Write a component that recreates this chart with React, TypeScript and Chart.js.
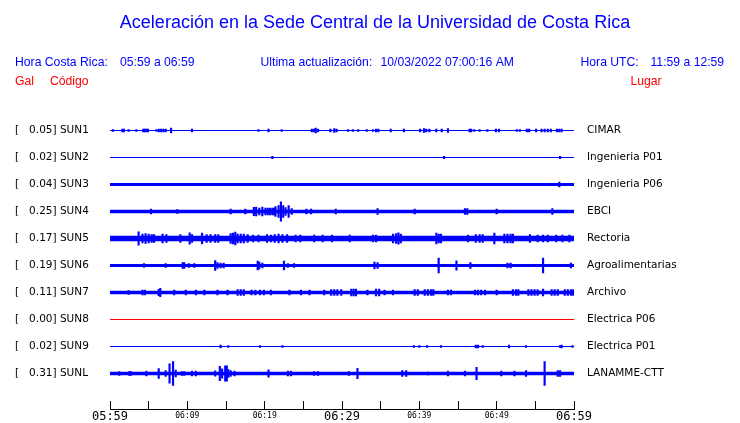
import React, { useEffect, useRef } from "react";
import { Chart, registerables } from "chart.js";

Chart.register(...registerables);

// ---------------- data ----------------
const TITLE = "Aceleración en la Sede Central de la Universidad de Costa Rica";
const UPDATED = "10/03/2022 07:00:16 AM";
const UTC_RANGE = "11:59 a 12:59";

const CODES = ["SUN1", "SUN2", "SUN3", "SUN4", "SUN5", "SUN6", "SUN7", "SUN8", "SUN9", "SUNL"];
const PLACES = [
  "CIMAR",
  "Ingenieria P01",
  "Ingenieria P06",
  "EBCI",
  "Rectoria",
  "Agroalimentarias",
  "Archivo",
  "Electrica P06",
  "Electrica P01",
  "LANAMME-CTT",
];
// peak acceleration (gal) shown in the left labels
const PEAK_GAL = [0.05, 0.02, 0.04, 0.25, 0.17, 0.19, 0.11, 0.0, 0.02, 0.31];
// half-width of the continuous background noise band (gal)
const NOISE_GAL = [0.013, 0.013, 0.039, 0.047, 0.073, 0.041, 0.045, 0.013, 0.013, 0.044];

const TICK_MINUTES = [0, 5, 10, 15, 20, 25, 30, 35, 40, 45, 50, 55, 60];
const TICK_LABELS = ["05:59", "06:09", "06:19", "06:29", "06:39", "06:49", "06:59"];

// [minute after 05:59, half amplitude in gal]
const SUN1_EVENTS = [
  [0.4, 0.026], [1.6, 0.039], [1.8, 0.039], [2.4, 0.026], [3.4, 0.026], [4.3, 0.039], [4.5, 0.039],
  [4.7, 0.039], [4.9, 0.039], [6.0, 0.026], [6.3, 0.039], [6.6, 0.039], [6.9, 0.039], [7.2, 0.039],
  [7.9, 0.06], [10.6, 0.039], [19.2, 0.026], [20.5, 0.039], [22.2, 0.026], [26.1, 0.039], [26.4, 0.039],
  [26.6, 0.06], [26.9, 0.039], [28.5, 0.039], [29.0, 0.05], [29.3, 0.039], [30.8, 0.026], [31.4, 0.026],
  [32.1, 0.026], [33.2, 0.026], [34.0, 0.026], [34.4, 0.039], [34.7, 0.039], [36.3, 0.039], [38.0, 0.039],
  [40.1, 0.039], [40.6, 0.05], [40.9, 0.039], [41.3, 0.039], [42.2, 0.039], [42.9, 0.039], [43.7, 0.05],
  [46.5, 0.039], [46.7, 0.039], [47.1, 0.026], [47.8, 0.026], [48.8, 0.026], [49.9, 0.039], [50.3, 0.039],
  [52.6, 0.026], [53.0, 0.026], [53.9, 0.039], [54.2, 0.039], [55.1, 0.039], [55.8, 0.039], [56.2, 0.039],
  [56.6, 0.039], [57.0, 0.039], [57.8, 0.039], [58.1, 0.039], [58.4, 0.039],
];
const SUN2_EVENTS = [[21.0, 0.03], [43.2, 0.03], [58.2, 0.03]];
const SUN3_EVENTS = [[58.1, 0.065]];
const SUN4_EVENTS = [
  [5.3, 0.065], [8.7, 0.052], [15.6, 0.065], [17.5, 0.065], [18.6, 0.11], [18.9, 0.117], [19.3, 0.09],
  [19.7, 0.117], [20.1, 0.091], [20.4, 0.091], [20.7, 0.091], [21.0, 0.091], [21.2, 0.091], [21.4, 0.13],
  [21.8, 0.155], [22.1, 0.25], [22.4, 0.155], [22.7, 0.104], [23.1, 0.155], [23.5, 0.078], [25.4, 0.065],
  [26.0, 0.065], [29.2, 0.065], [34.6, 0.078], [39.4, 0.065], [45.9, 0.078], [46.2, 0.078], [50.0, 0.065],
  [57.2, 0.078],
];
const SUN5_EVENTS = [
  [3.7, 0.17], [4.2, 0.117], [4.6, 0.13], [5.0, 0.117], [5.4, 0.104], [5.7, 0.104], [6.8, 0.117],
  [7.3, 0.104], [9.1, 0.104], [10.3, 0.15], [10.6, 0.104], [11.9, 0.142], [12.5, 0.104], [13.0, 0.104],
  [13.6, 0.104], [14.0, 0.104], [15.6, 0.13], [15.9, 0.142], [16.2, 0.168], [16.5, 0.117], [16.9, 0.117],
  [17.3, 0.117], [17.8, 0.104], [18.5, 0.091], [19.2, 0.091], [20.3, 0.104], [20.8, 0.091], [21.3, 0.104],
  [21.8, 0.117], [22.3, 0.104], [22.9, 0.104], [24.0, 0.091], [24.6, 0.091], [26.4, 0.091], [27.5, 0.091],
  [28.7, 0.091], [31.0, 0.091], [34.0, 0.091], [34.4, 0.091], [36.6, 0.117], [37.0, 0.13], [37.3, 0.15],
  [37.6, 0.117], [42.2, 0.142], [42.5, 0.117], [42.8, 0.117], [46.3, 0.091], [47.3, 0.104], [47.8, 0.104],
  [48.2, 0.104], [49.7, 0.142], [51.0, 0.117], [51.4, 0.117], [51.8, 0.117], [52.1, 0.117], [54.3, 0.104],
  [55.3, 0.091], [56.0, 0.091], [56.6, 0.091], [57.7, 0.091], [58.5, 0.091], [59.4, 0.091],
];
const SUN6_EVENTS = [
  [4.4, 0.052], [7.2, 0.052], [9.4, 0.078], [9.6, 0.078], [10.2, 0.052], [10.9, 0.052], [13.6, 0.125],
  [13.9, 0.078], [14.3, 0.065], [14.7, 0.065], [19.1, 0.117], [19.3, 0.09], [19.7, 0.065], [22.5, 0.117],
  [23.0, 0.052], [23.8, 0.052], [34.2, 0.091], [34.6, 0.078], [42.5, 0.19], [44.8, 0.12], [46.6, 0.078],
  [51.4, 0.065], [51.8, 0.065], [56.0, 0.19], [59.6, 0.065],
];
const SUN7_EVENTS = [
  [2.4, 0.052], [4.2, 0.065], [4.5, 0.065], [6.3, 0.08], [6.5, 0.11], [8.3, 0.065], [9.8, 0.065],
  [11.1, 0.065], [12.2, 0.065], [13.9, 0.065], [15.2, 0.065], [16.5, 0.078], [16.9, 0.078], [17.3, 0.078],
  [18.3, 0.065], [18.8, 0.065], [19.4, 0.065], [19.9, 0.065], [20.8, 0.065], [23.2, 0.065], [24.7, 0.065],
  [25.8, 0.065], [27.7, 0.065], [28.6, 0.078], [29.0, 0.078], [29.4, 0.078], [29.9, 0.078], [31.2, 0.086],
  [31.5, 0.086], [31.8, 0.086], [33.3, 0.065], [34.4, 0.09], [34.8, 0.09], [35.5, 0.065], [36.6, 0.065],
  [39.4, 0.078], [39.8, 0.078], [40.7, 0.078], [41.1, 0.078], [41.5, 0.078], [41.8, 0.078], [43.7, 0.065],
  [44.1, 0.065], [47.2, 0.065], [47.6, 0.065], [48.0, 0.065], [48.5, 0.065], [50.0, 0.065], [52.1, 0.078],
  [52.5, 0.078], [52.8, 0.078], [54.1, 0.078], [54.5, 0.078], [54.9, 0.078], [55.3, 0.078], [56.0, 0.091],
  [57.1, 0.078], [57.5, 0.078], [57.9, 0.078], [58.8, 0.078], [59.2, 0.078], [59.6, 0.078], [59.9, 0.078],
];
const SUN8_EVENTS: number[][] = [];
const SUN9_EVENTS = [
  [14.3, 0.039], [15.3, 0.026], [19.4, 0.026], [22.3, 0.026], [39.3, 0.026], [40.0, 0.026], [41.0, 0.026],
  [42.8, 0.026], [47.3, 0.039], [47.6, 0.039], [48.2, 0.026], [51.6, 0.039], [53.8, 0.026], [58.2, 0.026],
  [58.4, 0.039], [59.8, 0.026],
];
const SUNL_EVENTS = [
  [1.2, 0.052], [2.5, 0.052], [2.7, 0.052], [4.7, 0.065], [6.3, 0.125], [7.2, 0.078], [7.7, 0.25],
  [8.15, 0.31], [8.5, 0.086], [9.3, 0.052], [9.6, 0.052], [10.6, 0.065], [11.1, 0.065], [13.6, 0.07],
  [14.2, 0.185], [14.5, 0.12], [14.9, 0.2], [15.1, 0.2], [15.3, 0.104], [15.6, 0.078], [16.1, 0.065],
  [20.5, 0.095], [23.0, 0.065], [23.4, 0.065], [26.4, 0.052], [26.9, 0.052], [30.9, 0.052], [32.0, 0.137],
  [37.8, 0.078], [38.3, 0.078], [41.1, 0.039], [43.7, 0.065], [45.9, 0.065], [47.4, 0.163], [50.6, 0.065],
  [52.3, 0.065], [53.8, 0.078], [56.2, 0.31], [57.9, 0.078], [58.2, 0.078],
];
const EVENTS = [
  SUN1_EVENTS, SUN2_EVENTS, SUN3_EVENTS, SUN4_EVENTS, SUN5_EVENTS,
  SUN6_EVENTS, SUN7_EVENTS, SUN8_EVENTS, SUN9_EVENTS, SUNL_EVENTS,
];

// ---------------- layout / style ----------------
const BLUE = "#0000ff";
const RED = "#ff0000";
const TRACE_COLORS = CODES.map((c) => (c === "SUN8" ? RED : BLUE));
const SPACING = 0.7; // gal between trace baselines
const N = CODES.length;
const Y_MAX = (N + 1) * SPACING;
const center = (i: number) => (N - i) * SPACING;
const TICK_LEN = 9;
const HEAD_FONT = '12.2px "Liberation Sans", Arial, sans-serif';

const traceIndexOf = (v: number) => CODES.findIndex((_, i) => Math.abs(center(i) - v) < 1e-6);
const leftLabel = (i: number) => `[${PEAK_GAL[i].toFixed(2).padStart(7, " ")}] ${CODES[i]}`;

const headerPlugin = {
  id: "seismoHeader",
  afterDraw(chart: any) {
    const ctx = chart.ctx as CanvasRenderingContext2D;
    ctx.save();
    ctx.textBaseline = "alphabetic";
    ctx.fillStyle = BLUE;
    ctx.textAlign = "center";
    ctx.font = '18px "Liberation Sans", Arial, sans-serif';
    ctx.fillText(TITLE, 375, 28);
    ctx.textAlign = "left";
    ctx.font = HEAD_FONT;
    ctx.fillText("Hora Costa Rica:", 15, 66);
    ctx.fillText(`${TICK_LABELS[0]} a ${TICK_LABELS[TICK_LABELS.length - 1]}`, 120, 66);
    ctx.fillText("Ultima actualización:", 260.5, 66);
    ctx.fillText(UPDATED, 380.5, 66);
    ctx.fillText("Hora UTC:", 580.5, 66);
    ctx.fillText(UTC_RANGE, 650.5, 66);
    ctx.fillStyle = RED;
    ctx.fillText("Gal", 15, 85);
    ctx.fillText("Código", 50, 85);
    ctx.fillText("Lugar", 630.5, 85);
    // time axis base line below the tick marks
    const xs = chart.scales.x;
    ctx.fillStyle = "#000";
    ctx.fillRect(xs.left, Math.round(xs.top) + TICK_LEN - 1, xs.right - xs.left + 1, 1);
    ctx.restore();
  },
};

export default function App() {
  const ref = useRef<HTMLCanvasElement>(null);
  useEffect(() => {
    document.body.style.margin = "0";
    const bands = CODES.map((code, i) => ({
      type: "line" as const,
      label: code,
      data: [
        { x: TICK_MINUTES[0], y: center(i) - NOISE_GAL[i] },
        { x: TICK_MINUTES[TICK_MINUTES.length - 1], y: center(i) - NOISE_GAL[i] },
      ],
      borderWidth: 0,
      borderColor: "rgba(0,0,0,0)",
      backgroundColor: TRACE_COLORS[i],
      pointRadius: 0,
      fill: { value: center(i) + NOISE_GAL[i] },
      yAxisID: "y",
    }));
    const spikes = {
      type: "bar" as const,
      label: "spikes",
      data: EVENTS.flatMap((ev, i) =>
        ev.map(([t, a]) => ({ x: t, y: [center(i) - a, center(i) + a] }))
      ),
      backgroundColor: BLUE,
      borderWidth: 0,
      barThickness: 1.5,
      yAxisID: "y",
    };
    const chart = new Chart(ref.current as HTMLCanvasElement, {
      type: "line",
      data: { datasets: [...bands, spikes] as any },
      plugins: [headerPlugin],
      options: {
        responsive: false,
        animation: false,
        devicePixelRatio: 1,
        layout: { padding: { left: 15, right: 0, top: 103.5, bottom: 0 } },
        plugins: { legend: { display: false }, tooltip: { enabled: false }, title: { display: false } },
        scales: {
          x: {
            type: "linear",
            position: "bottom",
            min: TICK_MINUTES[0],
            max: TICK_MINUTES[TICK_MINUTES.length - 1],
            offset: false,
            afterBuildTicks: (s: any) => {
              s.ticks = TICK_MINUTES.map((v) => ({ value: v }));
            },
            afterFit: (s: any) => {
              s.height = 22.5;
            },
            grid: {
              display: true,
              offset: false,
              drawOnChartArea: false,
              drawTicks: true,
              tickLength: TICK_LEN,
              color: "#000",
              lineWidth: 1,
            },
            border: { display: false },
            ticks: {
              autoSkip: false,
              maxRotation: 0,
              padding: 0,
              color: "#000",
              font: (ctx: any) => {
                const v = ctx.tick ? ctx.tick.value : 0;
                return v % 30 === 0
                  ? { family: '"DejaVu Sans Mono", monospace', size: 12 }
                  : { family: '"DejaVu Sans Mono", monospace', size: 8, lineHeight: 1.55 };
              },
              callback: (v: any) => (Number(v) % 10 === 0 ? TICK_LABELS[Number(v) / 10] : ""),
            },
          },
          y: {
            type: "linear",
            position: "left",
            min: 0,
            max: Y_MAX,
            stacked: false,
            afterBuildTicks: (s: any) => {
              s.ticks = CODES.map((_, i) => ({ value: center(i) }));
            },
            afterFit: (s: any) => {
              s.width = 95;
            },
            grid: { display: false, drawTicks: false },
            border: { display: false },
            ticks: {
              crossAlign: "far",
              padding: 0,
              color: "#000",
              font: { family: '"DejaVu Sans", sans-serif', size: 10.5 },
              callback: (v: any) => {
                const i = traceIndexOf(Number(v));
                return i >= 0 ? leftLabel(i) : "";
              },
            },
          },
          y2: {
            type: "linear",
            position: "right",
            display: true,
            min: 0,
            max: Y_MAX,
            afterBuildTicks: (s: any) => {
              s.ticks = CODES.map((_, i) => ({ value: center(i) }));
            },
            afterFit: (s: any) => {
              s.width = 166;
            },
            grid: { display: false, drawTicks: false },
            border: { display: false },
            ticks: {
              crossAlign: "near",
              padding: 13,
              color: "#000",
              font: { family: '"DejaVu Sans", sans-serif', size: 10.5 },
              callback: (v: any) => {
                const i = traceIndexOf(Number(v));
                return i >= 0 ? PLACES[i] : "";
              },
            },
          },
        },
      } as any,
    });
    return () => chart.destroy();
  }, []);
  return (
    <div style={{ width: 740, height: 423, background: "#fff" }}>
      <canvas ref={ref} width={740} height={423} style={{ display: "block" }} />
    </div>
  );
}
